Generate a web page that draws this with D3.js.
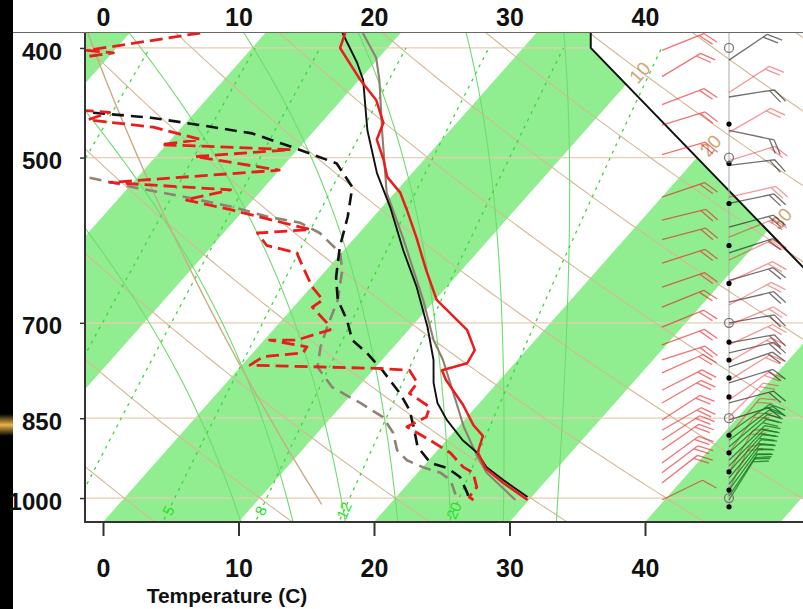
<!DOCTYPE html>
<html>
<head>
<meta charset="utf-8">
<script src="https://cdn.jsdelivr.net/npm/d3@7"></script>
<style>
  body{margin:0;background:#fff;overflow:hidden;}
  svg{display:block;font-family:"Liberation Sans",Arial,Helvetica,sans-serif;}
</style>
</head>
<body>
<svg width="803" height="609"></svg>
<script>
// ---- values ----
var tempTicks=[0,10,20,30,40];
var pressureLevels=[400,500,700,850,1000];
var bandStarts=[-40,-20,0,20,40];
var dryThetas=[-30,-20,-10,0,10,20,30,40,50,60,70,80,90,100,110,120,130,140,150,160,170];
var moistStarts=[8,12,16,20,24,28,32];
var mixRatios=[1,2,3,5,8,12,20];
var mixLabels=[5,8,12,20];
var isoLabels=[10,20,30];
var boundaryP=[400,500];
var boundaryT=[5,20];

// temperature soundings (hPa, C)
var redTempP=[388,400,427,445,466,482,502,520,537,556,588,629,668,710,740,760,771,786,827,862,881,911,941,970,1004];
var redTempT=[-14.1,-13.5,-9.9,-7.4,-5.4,-4.8,-3.0,-1.6,0.4,2.0,4.5,7.4,10.1,14.3,16.2,16.5,15.1,16.0,18.9,21.0,22.4,23.1,24.7,27.0,29.9];
var blackTempP=[388,412,427,473,516,553,604,651,706,755,791,824,853,889,912,939,964,998];
var blackTempT=[-14.3,-11.3,-9.7,-6.1,-2.6,0.6,4.4,7.8,11.2,13.8,15.3,16.9,18.7,21.2,23.1,24.7,26.8,29.7];
var brownTempP=[388,408,427,476,537,588,668,725,755,824,865,920,950,1004];
var brownTempT=[-12.8,-10.2,-8.5,-4.8,-0.6,3.5,9.1,12.5,14.5,18.3,20.4,23.4,25.1,29.0];

// dewpoint soundings
var redDewP=[388,402,404,408,454,456,463,470,482,487,492,499,513,526,534,545,556,579,583,598,607,625,651,668,678,700,710,725,725,735,744,750,763,768,771,791,808,831,848,865,889,912,939,950,978,998,1004];
var redDewT=[-24.8,-32.0,-29.9,-32.1,-28.6,-26.3,-27.4,-22.1,-17.8,-20.4,-10.5,-17.1,-10.0,-21.7,-12.3,-15.0,-11.0,-3.8,-7.5,-6.0,-3.3,-1.9,0.1,1.7,1.4,3.5,4.2,2.4,0.4,3.6,3.7,1.0,0.6,10.2,12.7,14.1,14.2,16.6,17.0,16.2,18.8,21.1,23.0,24.1,25.3,25.4,25.9];
var blackDewP=[452,456,461,468,476,490,506,531,564,600,638,668,696,725,744,771,808,836,865,901,931,941,958,990,1004];
var blackDewT=[-32,-27.9,-22.9,-18.8,-14.4,-10.4,-6.2,-3.5,-1.9,-0.5,1.2,2.8,4.8,6.5,8.4,10.7,13.5,15.3,16.7,18.3,20.3,21.9,23.4,25.0,25.6];
var greyDewP=[516,521,531,542,553,564,571,583,607,629,668,706,735,766,798,824,848,876,907,926,939,950,964,988,1004];
var greyDewT=[-28,-23.5,-19.7,-15.1,-11.0,-7.8,-5.0,-2.9,-0.1,1.2,2.8,3.8,4.6,5.7,8.1,11.2,13.8,15.6,17.0,18.4,20.0,21.7,22.9,24.0,24.7];

// winds (direction deg, speed kt)
var leftWindP=[402,424,449,468,497,542,568,591,620,651,678,706,732,755,775,803,824,853,871,889,907,931,950,970,1004];
var leftWindDir=[68,59,69,73,74,71,76,75,72,71,68,68,70,72,66,63,60,57,60,57,55,54,53,52,64];
var leftWindSpd=[20,20,20,20,20,20,20,20,20,20,20,20,20,20,20,20,20,20,20,20,20,20,20,20,10];
var blackWindP=[410,442,473,508,549,576,607,642,671,700,729,744,766,791,824,853];
var blackWindDir=[56,81,102,83,78,75,72,74,77,80,80,77,71,73,75,73];
var blackWindSpd=[20,20,20,20,20,20,20,20,20,20,20,20,20,20,20,20];
var redWindP=[438,475,503,542,588,616,644,675,703,732,758,787,819,848,880,912,948,984];
var redWindDir=[57,60,73,77,68,65,65,62,68,65,60,58,55,45,40,35,30,25];
var redWindSpd=[20,20,20,20,20,20,20,20,20,20,20,20,20,20,20,20,20,20];
var greenWindP=[876,889,901,912,926,937,948,960,972,984,996,1004];
var greenWindDir=[55,53,50,48,46,44,42,40,38,36,34,32];
var greenWindSpd=[20,20,20,20,20,20,20,20,20,20,20,20];
var dotLevels=[467,506,549,598,646,728,755,783,814,880,912,948,984,1018];

// ---- layout ----
var plotLeft=86, plotRight=803, plotTop=33, plotBottom=522;
var pScale=d3.scaleLog().domain([1050,388]).range([plotBottom,plotTop]);
var tScale=d3.scaleLinear().domain([0,40]).range([103,645]);
var skew=0.886;
var skewX=function(t,p){ return tScale(t)+skew*(plotBottom-pScale(p)); };
var line=d3.line().x(function(d){return skewX(d[1],d[0]);}).y(function(d){return pScale(d[0]);});
var zip=function(ps,ts){ return ps.map(function(p,i){return [p,ts[i]];}); };

var svg=d3.select('svg');
var defs=svg.append('defs');
defs.append('clipPath').attr('id','plotClip').append('rect')
  .attr('x',plotLeft).attr('y',plotTop).attr('width',plotRight-plotLeft).attr('height',plotBottom-plotTop);

// boundary of the isotherm area
var ax=skewX(boundaryT[0],boundaryP[0]), ay=pScale(boundaryP[0]);
var bx=skewX(boundaryT[1],boundaryP[1]), by=pScale(boundaryP[1]);
var slope=(bx-ax)/(by-ay);
var cy=plotBottom+200, cx=ax+slope*(cy-ay);
defs.append('clipPath').attr('id','bandClip').append('polygon')
  .attr('points',[[plotLeft,plotTop],[ax,plotTop],[ax,ay],[cx,cy],[plotLeft,cy]].join(' '));

// slide strip on the left
var grad=defs.append('linearGradient').attr('id','gold').attr('x1',0).attr('y1',0).attr('x2',0).attr('y2',1);
grad.append('stop').attr('offset','0%').attr('stop-color','#000');
grad.append('stop').attr('offset','50%').attr('stop-color','#e8b54a');
grad.append('stop').attr('offset','100%').attr('stop-color','#000');
svg.append('rect').attr('x',0).attr('y',0).attr('width',13).attr('height',609).attr('fill','#000');
svg.append('rect').attr('x',0).attr('y',414).attr('width',13).attr('height',22).attr('fill','url(#gold)');

var plot=svg.append('g').attr('clip-path','url(#plotClip)');
var bandG=plot.append('g').attr('clip-path','url(#bandClip)');

// isotherm bands
bandStarts.forEach(function(t0){
  var pts=[[skewX(t0,1060),pScale(1060)],[skewX(t0+10,1060),pScale(1060)],
           [skewX(t0+10,380),pScale(380)],[skewX(t0,380),pScale(380)]];
  bandG.append('polygon').attr('points',pts.join(' ')).attr('fill','#90ee90');
});

// isobars
bandG.selectAll('line.isobar').data(pressureLevels).enter().append('line')
  .attr('class','isobar')
  .attr('x1',plotLeft).attr('x2',plotRight)
  .attr('y1',function(d){return pScale(d);}).attr('y2',function(d){return pScale(d);})
  .attr('stroke','#e9cdb0').attr('stroke-width',1.2);

var pGrid=d3.range(1060,375,-5);

// dry adiabats
plot.selectAll('path.dry').data(dryThetas).enter().append('path')
  .attr('class','dry')
  .attr('d',function(th){
    return line(pGrid.map(function(p){return [p,(th+273.15)*Math.pow(p/1000,0.2857)-273.15];}));
  })
  .attr('fill','none').attr('stroke','#d4b896').attr('stroke-width',1.1);

// saturated adiabats
var lapse=function(t,p){
  var tc=t-273.15;
  var es=6.112*Math.exp(17.67*tc/(tc+243.5));
  var rs=0.622*es/(p-es);
  return ((287.04*t+2.501e6*rs)/p)/(1005.7+(2.501e6*2.501e6*rs*0.622)/(287.04*t*t));
};
var moistCurve=function(t0){
  var up=[[1000,t0]],down=[];
  var t=t0+273.15,p=1000,k1,k2;
  while(p>380){ k1=lapse(t,p); k2=lapse(t-5*k1,p-5); t-=5*(k1+k2)/2; p-=5; up.push([p,t-273.15]); }
  t=t0+273.15; p=1000;
  while(p<1060){ k1=lapse(t,p); k2=lapse(t+5*k1,p+5); t+=5*(k1+k2)/2; p+=5; down.push([p,t-273.15]); }
  return down.reverse().concat(up);
};
plot.selectAll('path.moist').data(moistStarts).enter().append('path')
  .attr('class','moist')
  .attr('d',function(t0){return line(moistCurve(t0));})
  .attr('fill','none').attr('stroke','#6edc6e').attr('stroke-width',1.1);

// mixing ratio lines
var mixCurve=function(w){
  return d3.range(1060,399,-5).map(function(p){
    var e=w*p/(622+w), l=Math.log(e/6.112);
    return [p,243.5*l/(17.67-l)];
  });
};
plot.selectAll('path.mix').data(mixRatios).enter().append('path')
  .attr('class','mix')
  .attr('d',function(w){return line(mixCurve(w));})
  .attr('fill','none').attr('stroke','#3ad63a').attr('stroke-width',1.3)
  .attr('stroke-dasharray','3,5');

var mixPoint=function(w,p){
  var e=w*p/(622+w), l=Math.log(e/6.112);
  return [skewX(243.5*l/(17.67-l),p),pScale(p)];
};
plot.selectAll('text.mixlab').data(mixLabels).enter().append('text')
  .attr('class','mixlab')
  .attr('transform',function(w){
    var a=mixPoint(w,1036), b=mixPoint(w,1016), c=mixPoint(w,1026);
    var ang=Math.atan2(b[1]-a[1],b[0]-a[0])*180/Math.PI;
    return 'translate('+c[0]+','+c[1]+')rotate('+ang+')';
  })
  .attr('text-anchor','middle').attr('dy','0.35em')
  .style('font-size','15px').attr('fill','#26e226')
  .text(function(d){return d;});

// standard atmosphere
var stdAtm=d3.range(1013.25,375,-5).map(function(p){return [p,288.15*Math.pow(p/1013.25,0.190263)-273.15];});
plot.append('path').attr('d',line(stdAtm))
  .attr('fill','none').attr('stroke','#c9ab86').attr('stroke-width',1.4);

// boundary line
plot.append('path')
  .attr('d','M'+ax+','+plotTop+'L'+ax+','+ay+'L'+cx+','+cy)
  .attr('fill','none').attr('stroke','#111').attr('stroke-width',2);

// isotherm labels on the boundary
plot.selectAll('text.isolab').data(isoLabels).enter().append('text')
  .attr('class','isolab')
  .attr('transform',function(t){
    var yi=(tScale(t)+skew*plotBottom-ax+slope*ay)/(slope+skew);
    var yl=yi-12;
    var xl=tScale(t)+skew*(plotBottom-yl)+3;
    return 'translate('+xl+','+yl+')rotate('+(-Math.atan(1/skew)*180/Math.PI)+')';
  })
  .attr('text-anchor','middle').attr('dy','0.35em')
  .style('font-size','19px').attr('fill','#cba774')
  .text(function(d){return d;});

// soundings
var drawProfile=function(ps,ts,color,width,dash){
  var path=plot.append('path').attr('d',line(zip(ps,ts)))
    .attr('fill','none').attr('stroke',color).attr('stroke-width',width)
    .attr('stroke-linejoin','round');
  if(dash){ path.attr('stroke-dasharray',dash); }
};
drawProfile(greyDewP,greyDewT,'#8f8173',2.6,'12,7');
drawProfile(blackDewP,blackDewT,'#111',2.6,'12,7');
drawProfile(redDewP,redDewT,'#ec1c1c',2.8,'13,6');
drawProfile(brownTempP,brownTempT,'#8f7f6f',2.1,null);
drawProfile(blackTempP,blackTempT,'#111',1.9,null);
drawProfile(redTempP,redTempT,'#ec1c1c',2.5,null);

// winds
var staffX=729, leftColX=662;
var windG=plot.append('g');
windG.append('line').attr('x1',staffX).attr('x2',staffX)
  .attr('y1',plotTop).attr('y2',pScale(1018))
  .attr('stroke','#aaa').attr('stroke-width',1);

var drawBarbs=function(x0,pres,dirs,spds,len,color,op){
  pres.forEach(function(p,i){
    var y0=pScale(p);
    var a=dirs[i]*Math.PI/180;
    var ux=Math.sin(a), uy=-Math.cos(a);
    var x1=x0+len*ux, y1=y0+len*uy;
    var fa=55*Math.PI/180;
    var fx=ux*Math.cos(fa)-uy*Math.sin(fa), fy=ux*Math.sin(fa)+uy*Math.cos(fa);
    var d='M'+x0+','+y0+'L'+x1+','+y1;
    var n=Math.floor(spds[i]/10), sx, sy;
    for(var k=0;k<n;k++){
      sx=x1-ux*k*5; sy=y1-uy*k*5;
      d+='M'+sx+','+sy+'L'+(sx+fx*16)+','+(sy+fy*16);
    }
    if(spds[i]%10>=5){
      sx=x1-ux*n*5; sy=y1-uy*n*5;
      d+='M'+sx+','+sy+'L'+(sx+fx*8)+','+(sy+fy*8);
    }
    windG.append('path').attr('d',d).attr('fill','none')
      .attr('stroke',color).attr('stroke-width',1.3).attr('opacity',op);
  });
};
drawBarbs(leftColX,leftWindP,leftWindDir,leftWindSpd,45,'#e8141a',0.6);
drawBarbs(staffX,blackWindP,blackWindDir,blackWindSpd,46,'#111',0.6);
drawBarbs(staffX,redWindP,redWindDir,redWindSpd,48,'#e8141a',0.45);
drawBarbs(staffX,greenWindP,greenWindDir,greenWindSpd,50,'#12701a',0.75);

windG.selectAll('circle.dot').data(dotLevels).enter().append('circle')
  .attr('class','dot').attr('cx',staffX).attr('cy',function(d){return pScale(d);})
  .attr('r',2.6).attr('fill','#000');
windG.selectAll('circle.mand').data(pressureLevels).enter().append('circle')
  .attr('class','mand').attr('cx',staffX).attr('cy',function(d){return pScale(d);})
  .attr('r',4.5).attr('fill','none').attr('stroke','#777').attr('stroke-width',1.3);

// frame
svg.append('line').attr('x1',13).attr('x2',plotRight).attr('y1',plotTop-0.5).attr('y2',plotTop-0.5)
  .attr('stroke','#666').attr('stroke-width',1);
svg.append('line').attr('x1',plotLeft-1).attr('x2',plotLeft-1).attr('y1',plotTop).attr('y2',plotBottom+1)
  .attr('stroke','#333').attr('stroke-width',2);
svg.append('line').attr('x1',plotLeft-2).attr('x2',plotRight).attr('y1',plotBottom).attr('y2',plotBottom)
  .attr('stroke','#333').attr('stroke-width',2);

// axes
var xAxis=d3.axisBottom(tScale).tickValues(tempTicks).tickSize(14).tickPadding(23);
var xg=svg.append('g').attr('transform','translate(0,'+plotBottom+')').call(xAxis);
xg.select('.domain').remove();
xg.selectAll('line').attr('stroke','#333').attr('stroke-width',2);
xg.selectAll('text').style('font-size','25px').style('font-weight','bold').attr('fill','#111');

var topAxis=d3.axisTop(tScale).tickValues(tempTicks).tickSize(0).tickPadding(7);
var tg=svg.append('g').attr('transform','translate(0,'+plotTop+')').call(topAxis);
tg.select('.domain').remove();
tg.selectAll('text').style('font-size','25px').style('font-weight','bold').attr('fill','#111');

var yAxis=d3.axisLeft(pScale).tickValues(pressureLevels).tickSize(5).tickPadding(18).tickFormat(d3.format('d'));
var yg=svg.append('g').attr('transform','translate('+(plotLeft-1)+',0)').call(yAxis);
yg.select('.domain').remove();
yg.selectAll('line').attr('stroke','#333').attr('stroke-width',1.5);
yg.selectAll('text').style('font-size','24px').style('font-weight','bold').attr('dy','0.46em').attr('fill','#111');

svg.append('text').attr('x',227).attr('y',603).attr('text-anchor','middle')
  .style('font-size','21px').style('font-weight','bold').attr('fill','#111')
  .text('Temperature (C)');
</script>
</body>
</html>
